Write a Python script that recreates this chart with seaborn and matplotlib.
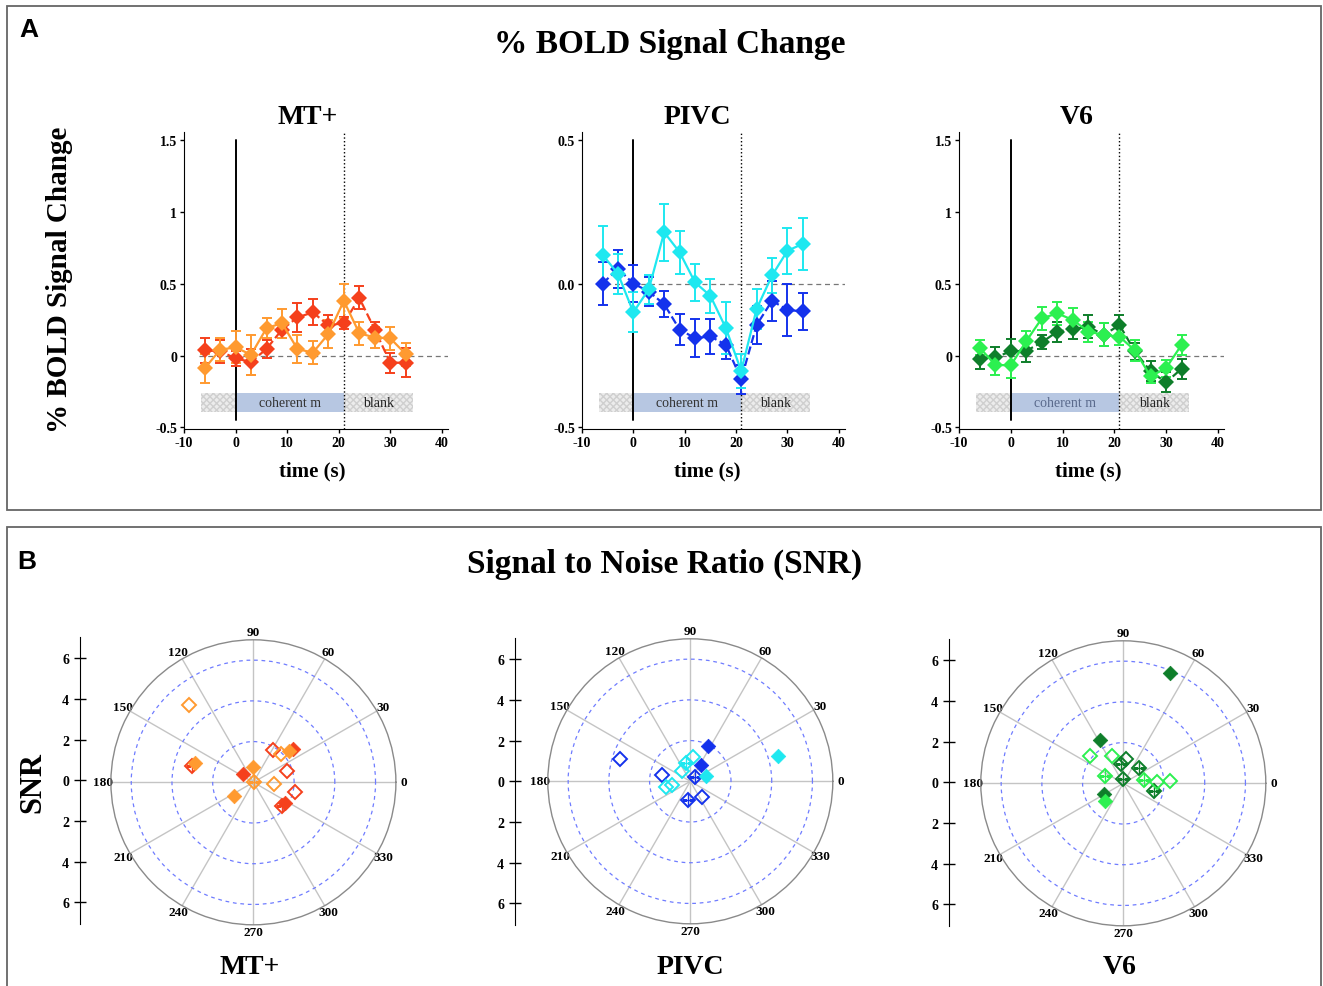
import numpy as np
import pandas as pd
import matplotlib
matplotlib.use("Agg")
import matplotlib.pyplot as plt
import seaborn as sns
from matplotlib.patches import Rectangle

# --- DATA: BOLD time courses (mean, error) ---
time_s = [-6, -3, 0, 3, 6, 9, 12, 15, 18, 21, 24, 27, 30, 33]

mt_dark = [0.035, 0.03, -0.02, -0.045, 0.046, 0.18, 0.265, 0.30, 0.21, 0.225, 0.40, 0.18, -0.05, -0.05]
mt_dark_err = [0.09, 0.08, 0.05, 0.09, 0.06, 0.06, 0.10, 0.09, 0.07, 0.04, 0.08, 0.05, 0.07, 0.10]
mt_light = [-0.09, 0.04, 0.057, 0.005, 0.19, 0.225, 0.045, 0.02, 0.15, 0.38, 0.155, 0.125, 0.12, 0.01]
mt_light_err = [0.10, 0.08, 0.11, 0.14, 0.07, 0.10, 0.10, 0.08, 0.10, 0.12, 0.08, 0.07, 0.08, 0.08]

pivc_dark = [0.0, 0.051, 0.0, -0.028, -0.072, -0.16, -0.19, -0.184, -0.213, -0.333, -0.144, -0.06, -0.092, -0.097]
pivc_dark_err = [0.075, 0.065, 0.065, 0.05, 0.045, 0.055, 0.065, 0.06, 0.05, 0.05, 0.065, 0.07, 0.09, 0.063]
pivc_light = [0.10, 0.034, -0.10, -0.02, 0.178, 0.109, 0.004, -0.043, -0.155, -0.304, -0.088, 0.028, 0.114, 0.138]
pivc_light_err = [0.10, 0.07, 0.07, 0.05, 0.10, 0.075, 0.065, 0.06, 0.09, 0.06, 0.07, 0.06, 0.08, 0.09]

v6_dark = [-0.023, -0.012, 0.028, 0.032, 0.092, 0.166, 0.184, 0.20, 0.143, 0.212, 0.028, -0.11, -0.187, -0.092]
v6_dark_err = [0.07, 0.07, 0.09, 0.075, 0.05, 0.07, 0.07, 0.08, 0.08, 0.07, 0.06, 0.07, 0.07, 0.07]
v6_light = [0.055, -0.065, -0.069, 0.10, 0.258, 0.293, 0.247, 0.166, 0.143, 0.131, 0.035, -0.145, -0.088, 0.074]
v6_light_err = [0.05, 0.07, 0.09, 0.07, 0.08, 0.08, 0.08, 0.07, 0.08, 0.06, 0.07, 0.045, 0.06, 0.07]

# --- DATA: SNR polar points (phase deg, SNR, series, marker kind) ---
mt_ang = [130, 162, 165, 142, 90, 0, 214, 58, 46, 41, 40, 19, 354, 347, 327, 320]
mt_snr = [4.94, 3.03, 3.11, 0.66, 0.76, 0.05, 1.17, 1.86, 1.92, 2.32, 2.54, 1.75, 1.03, 2.10, 1.88, 1.84]
mt_series = ["light", "light", "dark", "dark", "light", "light", "light", "dark", "light", "light", "dark",
             "dark", "light", "dark", "dark", "dark"]
mt_kind = ["open", "filled", "cross", "filled", "filled", "cross", "filled", "open", "open", "filled", "filled",
           "open", "open", "open", "filled", "cross"]

pivc_ang = [162.5, 63, 16, 56, 20, 47, 84, 103, 128, 167, 193, 193, 263, 307]
pivc_snr = [3.62, 1.96, 4.48, 0.98, 0.83, 0.31, 1.21, 0.90, 0.66, 1.45, 1.25, 0.90, 0.92, 0.94]
pivc_series = ["dark", "dark", "light", "dark", "light", "dark", "light", "light", "light", "dark", "light",
               "light", "dark", "dark"]
pivc_kind = ["open", "filled", "filled", "filled", "filled", "cross", "open", "cross", "open", "open", "open",
             "open", "cross", "open"]

v6_ang = [67, 119, 140, 112, 98, 83, 44, 157, 90, 9, 2, 2.5, 345, 210, 224]
v6_snr = [5.87, 2.41, 2.11, 1.46, 0.95, 1.20, 1.06, 0.97, 0.21, 1.02, 1.66, 2.28, 1.55, 1.09, 1.28]
v6_series = ["dark", "dark", "light", "light", "dark", "dark", "dark", "light", "dark", "light", "light",
             "light", "dark", "dark", "light"]
v6_kind = ["filled", "filled", "open", "open", "cross", "open", "cross", "cross", "cross", "cross", "open",
           "open", "cross", "filled", "filled"]

# --- STYLE ---
sns.set_style("ticks")
plt.rcParams["font.family"] = ["Liberation Serif", "DejaVu Serif"]
plt.rcParams["font.weight"] = "bold"
plt.rcParams["axes.unicode_minus"] = False
for key in ["text.color", "axes.edgecolor", "axes.labelcolor", "xtick.color", "ytick.color"]:
    plt.rcParams[key] = "black"

W, H = 1323, 987
fig = plt.figure(figsize=(W / 100, H / 100), dpi=100)


def px(l, t, r, b):
    return [l / W, 1 - b / H, (r - l) / W, (b - t) / H]


def ftext(x, y, s, **kw):
    fig.text(x / W, 1 - y / H, s, ha="center", va="center", **kw)


# panel frames
fig.patches.append(Rectangle((7 / W, 1 - 511 / H), 1314 / W, 504 / H, transform=fig.transFigure,
                             fill=False, edgecolor="#666666", lw=1.3))
fig.patches.append(Rectangle((7 / W, -0.02), 1314 / W, 1 - 528 / H + 0.02, transform=fig.transFigure,
                             fill=False, edgecolor="#666666", lw=1.3))
ftext(29, 30, "A", family="Liberation Sans", fontsize=19, fontweight="bold")
ftext(27, 562, "B", family="Liberation Sans", fontsize=19, fontweight="bold")
ftext(670, 45, "% BOLD Signal Change", fontsize=24, fontweight="bold")
ftext(665, 564, "Signal to Noise Ratio (SNR)", fontsize=24, fontweight="bold")
ftext(60, 280, "% BOLD Signal Change", fontsize=21, fontweight="bold", rotation=90)
ftext(33, 783, "SNR", fontsize=22, fontweight="bold", rotation=90)

# --- TOP: time courses ---
top_panels = [
    ("MT+", mt_dark, mt_dark_err, mt_light, mt_light_err, "#f5401c", "#ff9a30",
     (184, 448), (-0.511, 1.554), [-0.5, 0, 0.5, 1, 1.5], ["-0.5", "0", "0.5", "1", "1.5"], 1.5, 308, 312, "#333333"),
    ("PIVC", pivc_dark, pivc_dark_err, pivc_light, pivc_light_err, "#1432ec", "#1ee8f0",
     (582, 845), (-0.506, 0.527), [-0.5, 0.0, 0.5], ["-0.5", "0.0", "0.5"], 0.5, 697, 707, "#333333"),
    ("V6", v6_dark, v6_dark_err, v6_light, v6_light_err, "#0e7e2a", "#2cf050",
     (959, 1224), (-0.511, 1.554), [-0.5, 0, 0.5, 1, 1.5], ["-0.5", "0", "0.5", "1", "1.5"], 1.5, 1077, 1088, "#5a6a8c"),
]

for (name, yd, ed, yl, el, cd, cl, (xl, xr), ylim, yt, ytl, ytop, tx, lx, txtc) in top_panels:
    ax = fig.add_axes(px(xl, 133, xr, 430))
    ax.set_xlim(-10, 41.2)
    ax.set_ylim(*ylim)
    sns.despine(ax=ax)
    ax.set_xticks([-10, 0, 10, 20, 30, 40])
    ax.set_yticks(yt)
    ax.set_yticklabels(ytl)
    ax.tick_params(labelsize=10, length=3, width=1, pad=2)
    for lab in ax.get_xticklabels() + ax.get_yticklabels():
        lab.set_fontweight("bold")

    # stimulus bars
    tr = ax.get_xaxis_transform()
    y0, hgt = (430 - 413) / 297, 19 / 297
    ax.add_patch(Rectangle((-6.7, y0), 6.7, hgt, transform=tr, facecolor="#ececec", edgecolor="#cfcfcf",
                           hatch="xxxxx", lw=0, zorder=1))
    ax.add_patch(Rectangle((0, y0), 21, hgt, transform=tr, facecolor="#b7c7e2", edgecolor="#b7c7e2",
                           lw=0, zorder=1))
    ax.add_patch(Rectangle((21, y0), 13.4, hgt, transform=tr, facecolor="#ececec", edgecolor="#cfcfcf",
                           hatch="xxxxx", lw=0, zorder=1))
    ax.text(10.5, y0 + hgt / 2, "coherent m", transform=tr, ha="center", va="center", fontsize=10,
            fontweight="normal", color=txtc, zorder=2)
    ax.text(27.7, y0 + hgt / 2, "blank", transform=tr, ha="center", va="center", fontsize=10,
            fontweight="normal", color="#222222", zorder=2)

    # reference lines
    ax.plot([-7, 41.2], [0, 0], ls=(0, (4, 3)), color="#777777", lw=0.9, zorder=2)
    ax.plot([0, 0], [ylim[0] + 0.03 * (ylim[1] - ylim[0]), ytop], color="black", lw=1.4, zorder=2)
    ax.axvline(21, color="black", ls=":", lw=1.0, zorder=2)

    for y, e, c, ls in [(yd, ed, cd, "--"), (yl, el, cl, "-")]:
        ax.errorbar(time_s, y, yerr=e, fmt="none", ecolor=c, elinewidth=1.4, capsize=3.5, capthick=1.4, zorder=3)
        sns.lineplot(x=time_s, y=y, ax=ax, color=c, linestyle=ls, lw=1.6, marker="D", markersize=8,
                     markeredgewidth=0, errorbar=None, zorder=4)
    ax.set_xlabel("")
    ax.set_ylabel("")
    ftext(tx, 118, name, fontsize=20, fontweight="bold")
    ftext(lx, 471, "time (s)", fontsize=15, fontweight="bold")

# --- BOTTOM: SNR polar plots ---
polar_panels = [
    ("MT+", mt_ang, mt_snr, mt_series, mt_kind, "#f5401c", "#ff9a30", (253.4, 783.3), 80, 781.3, 250),
    ("PIVC", pivc_ang, pivc_snr, pivc_series, pivc_kind, "#1432ec", "#1ee8f0", (690.3, 782.3), 515, 782.3, 690),
    ("V6", v6_ang, v6_snr, v6_series, v6_kind, "#0e7e2a", "#2cf050", (1123.3, 784.3), 949, 783.3, 1120),
]
R = 142.5
for (name, ang, snr, ser, kind, cd, cl, (cx, cy), axx, acy, lx) in polar_panels:
    # linear SNR axis on the left
    sax = fig.add_axes(px(axx, acy - 7.05 * 20.33, axx + 1, acy + 7.05 * 20.33))
    sax.set_ylim(-7.05, 7.05)
    for s in ["top", "right", "bottom"]:
        sax.spines[s].set_visible(False)
    sax.set_xticks([])
    sax.set_yticks([-6, -4, -2, 0, 2, 4, 6])
    sax.set_yticklabels(["6", "4", "2", "0", "2", "4", "6"])
    sax.tick_params(axis="y", direction="inout", length=8, width=1, labelsize=10, pad=4)
    for lab in sax.get_yticklabels():
        lab.set_fontweight("bold")

    pax = fig.add_axes(px(cx - R, cy - R, cx + R, cy + R), projection="polar")
    pax.set_ylim(0, 7)
    pax.set_rgrids([2, 4, 6], labels=[])
    angles = list(range(0, 360, 30))
    pax.set_thetagrids(angles, labels=[str(a) for a in angles])
    pax.yaxis.grid(True, color="#6f7cff", ls=(0, (3, 3)), lw=0.9)
    pax.xaxis.grid(True, color="#c4c4c4", ls="-", lw=1.0)
    pax.spines["polar"].set_color("#8a8a8a")
    pax.spines["polar"].set_linewidth(1.0)
    pax.tick_params(axis="x", labelsize=9.5, pad=-5)
    for lab in pax.get_xticklabels():
        lab.set_fontweight("bold")
    pax.set_facecolor("white")

    df = pd.DataFrame({"theta": np.deg2rad(ang), "snr": snr, "series": ser, "kind": kind})
    for (s, k), sub in df.groupby(["series", "kind"]):
        c = cd if s == "dark" else cl
        if k == "filled":
            sns.scatterplot(data=sub, x="theta", y="snr", ax=pax, marker="D", s=55, color=c,
                            edgecolor=c, linewidth=0.5, zorder=5)
        else:
            pax.plot(sub["theta"], sub["snr"], ls="none", marker="D", markersize=7, mfc="none",
                     mec=c, mew=1.4, zorder=5)
            if k == "cross":
                pax.plot(sub["theta"], sub["snr"], ls="none", marker="+", markersize=8, mec=c,
                         mew=1.0, zorder=5)
    pax.set_xlabel("")
    pax.set_ylabel("")
    ftext(lx, 968, name, fontsize=20, fontweight="bold")

fig.savefig("out.png", dpi=100)
